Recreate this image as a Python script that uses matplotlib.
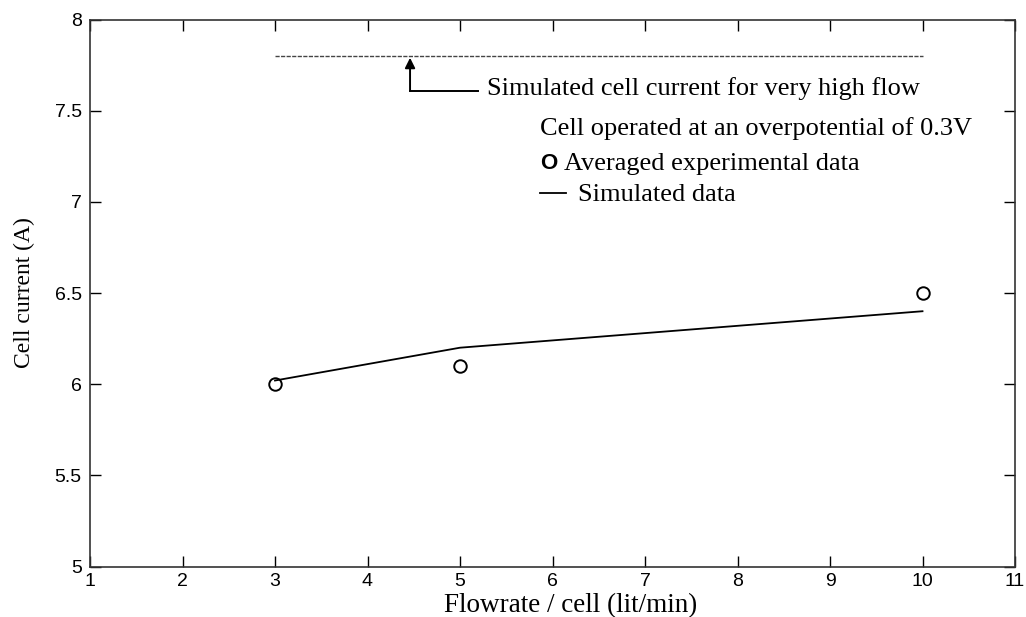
import matplotlib.pyplot as plt

# flowrate per cell (lit/min)
flow = [3, 5, 10]
# averaged experimental cell current (A)
exp_current = [6.0, 6.1, 6.5]
# simulated cell current (A)
sim_current = [6.02, 6.2, 6.4]
# simulated current for very high flow
high_flow_x = [3, 10]
high_flow_current = [7.8, 7.8]

serif = 'Liberation Serif'
sans = 'Liberation Sans'

fig = plt.figure(figsize=(10.26, 6.17), dpi=100)
# axes box: x from 90 to 1015 px, y from 19.5 to 566.5 px
ax = fig.add_axes([90 / 1026, 1 - 566.5 / 617, 925 / 1026, 547 / 617])

ax.plot(flow, sim_current, color='black', lw=1.3)
ax.plot(flow, exp_current, 'o', mfc='none', mec='black', ms=9, mew=1.4)
ax.plot(high_flow_x, high_flow_current, color='#444444', lw=1.0, ls=(0, (3, 1)))

# arrow pointing at the high flow line
ax.annotate('', xy=(4.46, 7.79), xytext=(4.46, 7.61),
            arrowprops=dict(arrowstyle='-|>', color='black', lw=1.4,
                            mutation_scale=15, shrinkA=0, shrinkB=0))
ax.plot([4.46, 5.19], [7.61, 7.61], color='black', lw=1.4)
ax.text(5.29, 7.62, 'Simulated cell current for very high flow', family=serif,
        fontsize=19, va='center')

ax.text(5.86, 7.40, 'Cell operated at an overpotential of 0.3V', family=serif,
        fontsize=19, va='center')
ax.text(5.87, 7.21, 'O', family=sans, fontsize=16, fontweight='bold', va='center')
ax.text(6.12, 7.21, 'Averaged experimental data', family=serif, fontsize=19, va='center')
ax.plot([5.87, 6.15], [7.05, 7.05], color='black', lw=1.3)
ax.text(6.28, 7.04, 'Simulated data', family=serif, fontsize=19, va='center')

ax.set_xlim(1, 11)
ax.set_ylim(5, 8)
ax.set_xticks(range(1, 12))
ax.set_yticks([5, 5.5, 6, 6.5, 7, 7.5, 8])
ax.set_yticklabels(['5', '5.5', '6', '6.5', '7', '7.5', '8'])
ax.tick_params(direction='in', top=True, right=True, length=8, width=1.0, labelsize=14)
ax.tick_params(axis='x', pad=5)
ax.tick_params(axis='y', pad=6)
for lab in ax.get_xticklabels() + ax.get_yticklabels():
    lab.set_family(sans)
for s in ax.spines.values():
    s.set_linewidth(1.2)
    s.set_color('#333333')

ax.set_xlabel('Flowrate / cell (lit/min)', family=serif, fontsize=19.5, labelpad=1)
ax.xaxis.set_label_coords(0.52, -0.048, transform=ax.transAxes)
ax.xaxis.label.set_va('top')
ax.set_ylabel('Cell current (A)', family=serif, fontsize=17, labelpad=14)

fig.savefig('out.png', dpi=100)
